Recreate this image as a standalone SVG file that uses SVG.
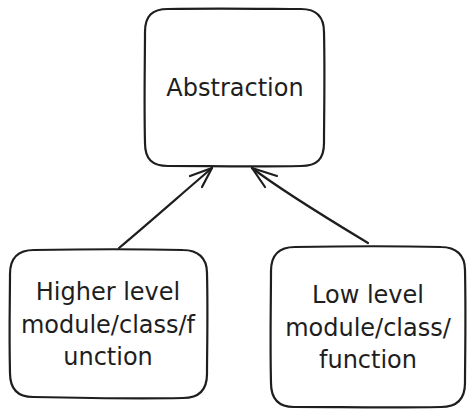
<svg xmlns="http://www.w3.org/2000/svg" width="474" height="418" viewBox="0 0 474 418">
<style>
.box{fill:#ffffff;stroke:#1e1e1e;stroke-width:2.2;stroke-linecap:round;stroke-linejoin:round}
.con{fill:none;stroke:#1e1e1e;stroke-width:2.2;stroke-linecap:round;stroke-linejoin:round}
.t{font-family:"DejaVu Sans",sans-serif;font-size:24px;fill:#1e1e1e;text-anchor:middle;dominant-baseline:central}
</style>
<rect width="474" height="418" fill="#ffffff"/>
<g id="abstraction">
<path class="box" d="M168 9 C220 8 275 9 301 9 C317 9 324 18 324 32 C325 75 324 120 324 143 C324 159 317 166 301 166 C255 167 205 166 168 166 C152 166 145 159 145 143 C144 100 145 60 145 32 C145 16 152 9 168 9 Z"/>
<text class="t" x="235" y="88">Abstraction</text>
</g>
<g id="higher">
<path class="box" d="M34 250 C90 249 140 249 183 250 C198 250 207 258 207 273 C208 315 207 350 207 374 C207 390 199 398 183 398 C130 399 80 398 33 397 C18 397 10 389 10 373 C9 330 10 300 10 274 C10 258 18 250 34 250 Z"/>
<text class="t" x="108" y="292">Higher level</text>
<text class="t" x="108" y="325">module/class/f</text>
<text class="t" x="108" y="357">unction</text>
</g>
<g id="lower">
<path class="box" d="M295 247 C350 246 400 246 441 247 C456 247 465 255 465 270 C466 320 465 360 465 383 C465 399 457 407 441 407 C390 408 340 407 294 407 C279 407 271 399 271 383 C270 340 271 300 271 271 C271 255 279 247 295 247 Z"/>
<text class="t" x="368" y="295">Low level</text>
<text class="t" x="368" y="328">module/class/</text>
<text class="t" x="368" y="360">function</text>
</g>
<g id="connectors">
<path class="con" d="M119 248 C150 222 185 191 212 168"/>
<path class="con" d="M212 168 L190 176 M212 168 L202 187"/>
<path class="con" d="M368 243 C330 220 285 193 252 168"/>
<path class="con" d="M252 168 L265 187 M252 168 L277 176"/>
</g>
</svg>
